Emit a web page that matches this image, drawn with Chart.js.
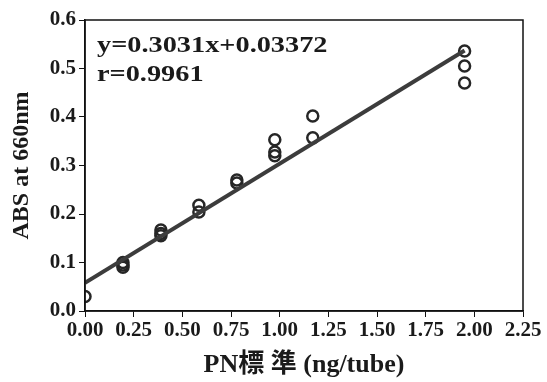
<!DOCTYPE html>
<html>
<head>
<meta charset="utf-8">
<script src="https://cdn.jsdelivr.net/npm/chart.js@4"></script>
<style>
  html, body { margin: 0; padding: 0; background: #fff; }
  #wrap { width: 547px; height: 382px; }
</style>
</head>
<body>
<div id="wrap"><canvas id="myChart" width="547" height="382"></canvas></div>
<script>
// measured points (ng/tube vs ABS)
const pointX = [0, 0.195, 0.195, 0.195, 0.39, 0.39, 0.39, 0.585, 0.585, 0.78, 0.78,
  0.975, 0.975, 0.975, 1.17, 1.17, 1.95, 1.95, 1.95];
const pointY = [0.03, 0.10, 0.095, 0.09, 0.167, 0.16, 0.155, 0.218, 0.204, 0.27, 0.264,
  0.353, 0.328, 0.32, 0.402, 0.357, 0.536, 0.505, 0.47];

// fitted line as drawn
const lineX = [0, 1.95];
const lineY = [0.058, 0.537];

const xTicks = [0, 0.25, 0.5, 0.75, 1.0, 1.25, 1.5, 1.75, 2.0, 2.25];
const yTicks = [0, 0.1, 0.2, 0.3, 0.4, 0.5, 0.6];
const eqLines = ['y=0.3031x+0.03372', 'r=0.9961'];

const serif = '"Liberation Serif", "Times New Roman", "Noto Sans CJK JP", serif';
const numFont = { family: serif, weight: 'bold', size: 21 };

const scatter = pointX.map((x, i) => ({ x: x, y: pointY[i] }));
const fit = lineX.map((x, i) => ({ x: x, y: lineY[i] }));

// box around plot + equation text (slightly widened like the scan)
const frame = {
  id: 'frame',
  afterDraw(chart) {
    const { ctx, chartArea: a } = chart;
    ctx.save();
    ctx.strokeStyle = '#111';
    ctx.lineWidth = 1.5;
    ctx.strokeRect(a.left, a.top, a.right - a.left, a.bottom - a.top);
    ctx.fillStyle = '#1a1a1a';
    ctx.font = 'bold 24px ' + serif;
    ctx.textBaseline = 'middle';
    ctx.translate(a.left + 12, a.top + 26);
    ctx.scale(1.18, 1);
    eqLines.forEach((t, i) => ctx.fillText(t, 0, i * 29));
    ctx.restore();
  }
};

const ctx = document.getElementById('myChart').getContext('2d');
const myChart = new Chart(ctx, {
  type: 'scatter',
  data: {
    datasets: [{
      label: 'fit',
      type: 'line',
      data: fit,
      borderColor: '#3c3c3c',
      borderWidth: 4,
      pointRadius: 0,
      fill: false
    }, {
      label: 'PN',
      data: scatter,
      pointRadius: 5.5,
      pointBorderWidth: 2.5,
      borderColor: '#262626',
      backgroundColor: 'rgba(0,0,0,0)'
    }]
  },
  options: {
    responsive: false,
    animation: false,
    layout: { padding: { top: 20, right: 24, left: 0, bottom: 0 } },
    plugins: { legend: { display: false }, tooltip: { enabled: false } },
    scales: {
      x: {
        type: 'linear',
        min: 0,
        max: 2.25,
        afterBuildTicks: (s) => { s.ticks = xTicks.map(v => ({ value: v })); },
        afterFit: (s) => { s.height = 71; },
        border: { color: '#111', width: 1.5 },
        grid: { drawOnChartArea: false, tickLength: 6, tickColor: '#111' },
        ticks: {
          color: '#1a1a1a',
          font: numFont,
          padding: 1,
          maxRotation: 0,
          autoSkip: false,
          callback: (v) => v.toFixed(2)
        },
        title: {
          display: true,
          text: 'PN標 準 (ng/tube)',
          color: '#1a1a1a',
          font: { family: serif, weight: 'bold', size: 26 },
          padding: { top: 0, bottom: 1 }
        }
      },
      y: {
        min: 0,
        max: 0.6,
        afterBuildTicks: (s) => { s.ticks = yTicks.map(v => ({ value: v })); },
        afterFit: (s) => { s.width = 85; },
        border: { color: '#111', width: 1.5 },
        grid: { drawOnChartArea: false, tickLength: 6, tickColor: '#111' },
        ticks: {
          color: '#1a1a1a',
          font: numFont,
          padding: 3,
          callback: (v) => v.toFixed(1)
        },
        title: {
          display: true,
          text: 'ABS at 660nm',
          color: '#1a1a1a',
          font: { family: serif, weight: 'bold', size: 24 },
          padding: { top: 7, bottom: 0 }
        }
      }
    }
  },
  plugins: [frame]
});
</script>
</body>
</html>
